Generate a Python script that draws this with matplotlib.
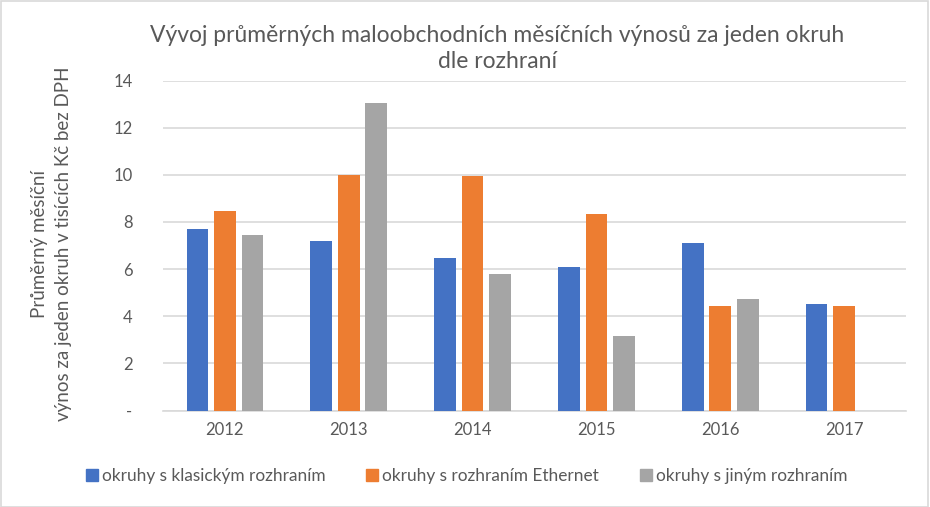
import matplotlib
matplotlib.use("Agg")
import matplotlib.pyplot as plt
from matplotlib.patches import Rectangle
from matplotlib.lines import Line2D
import numpy as np

plt.rcParams['font.family'] = ['Lato', 'DejaVu Sans']

years = ["2012", "2013", "2014", "2015", "2016", "2017"]
series_names = ["okruhy s klasickým rozhraním", "okruhy s rozhraním Ethernet", "okruhy s jiným rozhraním"]
klasicke = [7.72, 7.21, 6.49, 6.10, 7.09, 4.53]
ethernet = [8.45, 9.98, 9.94, 8.32, 4.45, 4.45]
jine = [7.43, 13.04, 5.77, 3.17, 4.74, 0.0]
colors = ["#4472C4", "#ED7D31", "#A5A5A5"]
yticks = [0, 2, 4, 6, 8, 10, 12, 14]
ytick_labels = ["-", "2", "4", "6", "8", "10", "12", "14"]

W, H = 930, 507
fig = plt.figure(figsize=(W / 100, H / 100), dpi=100)
fig.patches.append(Rectangle((0.5 / W, 0.5 / H), 1 - 2.5 / W, 1 - 1.5 / H, transform=fig.transFigure,
                             fill=False, edgecolor="#d9d9d9", linewidth=1.2))

ax = fig.add_axes([163 / W, (H - 410.5) / H, (906 - 163) / W, (410.5 - 80.5) / H])
x = np.arange(len(years))
bw = 0.174
off = 0.222
for i, (vals, c) in enumerate(zip([klasicke, ethernet, jine], colors)):
    ax.bar(x + (i - 1) * off, vals, width=bw, color=c, zorder=3, label=series_names[i])

ax.set_xlim(-0.5, len(years) - 0.5)
ax.set_ylim(0, 14)
ax.set_yticks(yticks)
ax.set_yticklabels(ytick_labels)
ax.set_xticks(x)
ax.set_xticklabels(years)
ax.grid(axis="y", color="#d9d9d9", linewidth=1.2, zorder=0)
for s in ["top", "right", "left"]:
    ax.spines[s].set_visible(False)
ax.spines["bottom"].set_color("#d9d9d9")
ax.spines["bottom"].set_linewidth(1.2)
ax.tick_params(axis="both", length=0, labelsize=12, colors="#595959")
ax.tick_params(axis="y", pad=22)
ax.tick_params(axis="x", pad=8)

fig.text(497 / W, 1 - 35 / H, "Vývoj průměrných maloobchodních měsíčních výnosů za jeden okruh",
         ha="center", va="center", fontsize=16.5, color="#595959")
fig.text(497 / W, 1 - 62 / H, "dle rozhraní", ha="center", va="center", fontsize=16.5, color="#595959")

fig.text(40 / W, 1 - 244 / H, "Průměrný měsíční", rotation=90, ha="center", va="center",
         fontsize=13.5, color="#595959")
fig.text(64 / W, 1 - 244 / H, "výnos za jeden okruh v tisících Kč bez DPH", rotation=90, ha="center",
         va="center", fontsize=13.5, color="#595959")

handles = [Line2D([0], [0], marker="s", linestyle="none", markersize=8, markerfacecolor=c,
                  markeredgecolor=c) for c in colors]
fig.legend(handles, series_names, loc="center", bbox_to_anchor=(466 / W, 1 - 476 / H), ncol=3,
           frameon=False, fontsize=12.4, labelcolor="#595959", handletextpad=0.2,
           columnspacing=2.3, handlelength=0.8)

fig.savefig("out.png", dpi=100)
